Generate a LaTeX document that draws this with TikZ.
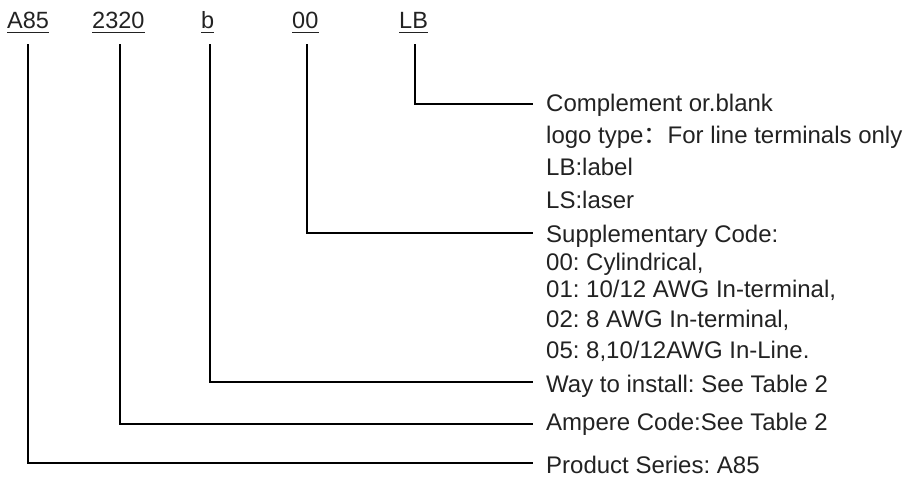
\documentclass[tikz,border=0pt]{standalone}
\usepackage{fontspec}
\setmainfont{Liberation Sans}
\newfontfamily\cjkfont{Noto Sans CJK SC}
\usetikzlibrary{calc}
\definecolor{txt}{RGB}{34,34,34}
\frenchspacing
\begin{document}
\begin{tikzpicture}[x=1pt,y=-1pt,
  code/.style={font=\fontsize{23.5}{28}\selectfont\frenchspacing, inner sep=0pt, anchor=base west, text=txt},
  desc/.style={font=\fontsize{24}{28}\selectfont\frenchspacing, inner sep=0pt, anchor=base west, text=txt},
  conn/.style={draw=black, line width=1.3pt},
  uline/.style={draw=txt, line width=1.3pt}]
\useasboundingbox (0,0) rectangle (905,477);

% code parts
\node[code] (a85)   at (7,28)   {A85};
\node[code] (c2320) at (92,28)  {2320};
\node[code] (cb)    at (201,28) {b};
\node[code] (c00)   at (292,28) {00};
\node[code] (cLB)   at (399,28) {LB};

\foreach \n in {a85,c2320,cb,c00,cLB}
  \draw[uline] ($(\n.base west)+(0,4.5)$) -- ($(\n.base east)+(0,4.5)$);

% descriptions
\node[desc] (d1)  at (546,111) {Complement or.blank};
\node[desc] (d2)  at (546,143) {logo type{\cjkfont ：}For line terminals only};
\node[desc] (d3)  at (546,175) {LB:label};
\node[desc] (d4)  at (546,208) {LS:laser};
\node[desc] (d5)  at (546,242) {Supplementary Code:};
\node[desc] (d6)  at (546,270) {00: Cylindrical,};
\node[desc] (d7)  at (546,297) {01: 10/12 AWG In-terminal,};
\node[desc] (d8)  at (546,327) {02: 8 AWG In-terminal,};
\node[desc] (d9)  at (546,358) {05: 8,10/12AWG In-Line.};
\node[desc] (d10) at (546,392) {Way to install: See Table 2};
\node[desc] (d11) at (546,430) {Ampere Code:See Table 2};
\node[desc] (d12) at (546,473) {Product Series: A85};

% connector starts
\coordinate (s1) at (28,44);
\coordinate (s2) at (120,44);
\coordinate (s3) at (210,44);
\coordinate (s4) at (307,44);
\coordinate (s5) at (415,44);

\draw[conn] (s5) |- ($(d1.base west)+(-13,-7)$);
\draw[conn] (s4) |- ($(d5.base west)+(-13,-9)$);
\draw[conn] (s3) |- ($(d10.base west)+(-13,-10)$);
\draw[conn] (s2) |- ($(d11.base west)+(-13,-6)$);
\draw[conn] (s1) |- ($(d12.base west)+(-13,-10)$);
\end{tikzpicture}
\end{document}
